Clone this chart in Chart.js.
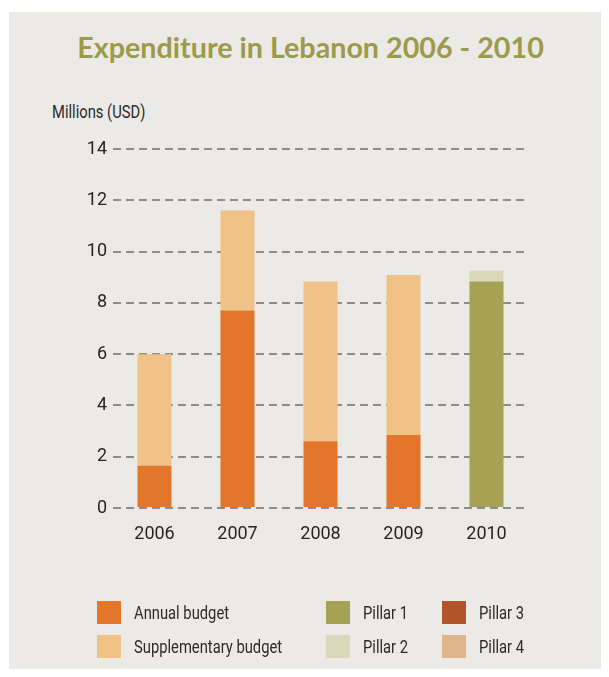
<!DOCTYPE html>
<html>
<head>
<meta charset="utf-8">
<script src="https://cdn.jsdelivr.net/npm/chart.js@4.4.1/dist/chart.umd.min.js"></script>
<style>
  html, body { margin: 0; padding: 0; background: #ffffff; }
  body { width: 609px; height: 677px; position: relative; overflow: hidden;
         font-family: Roboto, 'Liberation Sans', sans-serif; color: #2b2a28; }
  #paper { position: absolute; left: 9px; top: 12px; width: 592px; height: 657px; background: #ebeae6; }
  #title { position: absolute; left: 6px; width: 609px; top: 30px; text-align: center;
           font-family: Lato, 'Open Sans', sans-serif; font-weight: 700; font-size: 28.7px; color: #9c9a4b; }
  #unit { position: absolute; left: 52px; top: 101px; font-size: 18px;
          transform: scaleX(0.82); transform-origin: left top; white-space: nowrap; }
  #chart-wrap { position: absolute; left: 0; top: 0; width: 609px; height: 677px; }
  #legend { position: absolute; left: 0; top: 0; width: 609px; height: 677px; pointer-events: none; }
  .item { position: absolute; font-size: 18px; line-height: 23px; white-space: nowrap; }
  .item span { position: absolute; left: 0; top: 0; width: 24px; height: 23px; }
  .item b { font-weight: normal; position: absolute; left: 37px; top: 0;
            transform: scaleX(0.82); transform-origin: left top; }
</style>
</head>
<body>
<div id="paper"></div>
<div id="title">Expenditure in Lebanon 2006 - 2010</div>
<div id="unit">Millions (USD)</div>
<div id="chart-wrap"><canvas id="chart" width="609" height="677"></canvas></div>
<div id="legend"></div>
<script>
// ------------------------------------------------------------
//  Data (millions USD)
// ------------------------------------------------------------
var YEARS         = ['2006', '2007', '2008', '2009', '2010'];
var ANNUAL        = [1.65, 7.7, 2.6, 2.85, 0];
var SUPPLEMENTARY = [4.35, 3.9, 6.23, 6.24, 0];
var PILLAR_1      = [0, 0, 0, 0, 8.83];
var PILLAR_2      = [0, 0, 0, 0, 0.42];
var PILLAR_3      = [0, 0, 0, 0, 0];
var PILLAR_4      = [0, 0, 0, 0, 0];
var Y_TICKS       = [0, 2, 4, 6, 8, 10, 12, 14];

var FONT = "Roboto, 'Liberation Sans', sans-serif";

function ds(label, data, color) {
  return {
    label: label, data: data, backgroundColor: color, borderWidth: 0,
    stack: 'all', barPercentage: 0.41, categoryPercentage: 1
  };
}

var datasets = [
  ds('Annual budget',        ANNUAL,        '#e3762a'),
  ds('Supplementary budget', SUPPLEMENTARY, '#f1c287'),
  ds('Pillar 1',             PILLAR_1,      '#a6a253'),
  ds('Pillar 2',             PILLAR_2,      '#d9d8ba'),
  ds('Pillar 3',             PILLAR_3,      '#b3532b'),
  ds('Pillar 4',             PILLAR_4,      '#e0b58c')
];

var chart = new Chart(document.getElementById('chart'), {
  type: 'bar',
  data: { labels: YEARS, datasets: datasets },
  options: {
    responsive: false,
    animation: false,
    layout: { padding: { left: 0, top: 149, right: 81, bottom: 0 } },
    plugins: { legend: { display: false }, tooltip: { enabled: false } },
    scales: {
      x: {
        stacked: true,
        grid: { display: false },
        border: { display: false },
        ticks: { color: '#262522', padding: 8, font: { family: FONT, size: 18 } },
        afterFit: function (s) { s.height = 677 - 508; }
      },
      y: {
        stacked: true,
        min: 0, max: 14,
        afterBuildTicks: function (s) { s.ticks = Y_TICKS.map(function (v) { return { value: v }; }); },
        grid: { color: '#8e8d8a', lineWidth: 2, drawTicks: false },
        border: { display: false, dash: [8, 5] },
        ticks: { color: '#262522', padding: 6, font: { family: FONT, size: 18 } },
        afterFit: function (s) { s.width = 113; }
      }
    }
  }
});

// ------------------------------------------------------------
//  Legend (two rows, three columns) built from the datasets
// ------------------------------------------------------------
var LEGEND_POS = [[97, 601], [97, 635], [326, 601], [326, 635], [442, 601], [442, 635]];
var legend = document.getElementById('legend');
chart.data.datasets.forEach(function (d, i) {
  var el = document.createElement('div');
  el.className = 'item';
  el.style.left = LEGEND_POS[i][0] + 'px';
  el.style.top = LEGEND_POS[i][1] + 'px';
  el.innerHTML = '<span style="background:' + d.backgroundColor + '"></span><b>' + d.label + '</b>';
  legend.appendChild(el);
});
</script>
</body>
</html>
